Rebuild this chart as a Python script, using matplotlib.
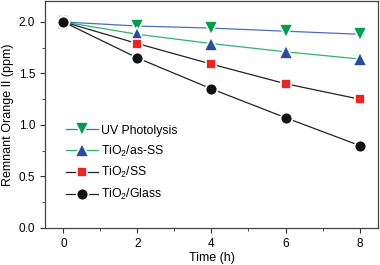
import matplotlib.pyplot as plt
from matplotlib.ticker import MultipleLocator

# czas (h) i stezenie (ppm)
time_h = [0, 2, 4, 6, 8]
uv_photolysis = [2.00, 1.96, 1.94, 1.91, 1.88]
tio2_as_ss = [2.00, 1.88, 1.79, 1.71, 1.64]
tio2_ss = [2.00, 1.79, 1.59, 1.40, 1.25]
tio2_glass = [2.00, 1.65, 1.35, 1.07, 0.80]
labels = ["UV Photolysis", "TiO$_2$/as-SS", "TiO$_2$/SS", "TiO$_2$/Glass"]

plt.rcParams['font.family'] = ['Liberation Sans', 'DejaVu Sans']
plt.rcParams['mathtext.fontset'] = 'custom'
plt.rcParams['mathtext.rm'] = 'Liberation Sans'

fig = plt.figure(figsize=(3.8, 2.65), dpi=100)
ax = fig.add_axes([0.118, 0.14, 0.877, 0.855])

series = [
    (uv_photolysis, '#4a6cc8', 'v', '#00a04a', 9.5),
    (tio2_as_ss, '#2fb36a', '^', '#2a4ca8', 9.5),
    (tio2_ss, '#222222', 's', '#ee2424', 7.5),
    (tio2_glass, '#222222', 'o', '#111111', 8.5),
]
for (vals, lc, m, mc, ms), lab in zip(series, labels):
    ax.plot(time_h, vals, color=lc, lw=0.9, marker=m, markersize=ms,
            markerfacecolor=mc, markeredgecolor='white', markeredgewidth=1.2,
            label=lab)

ax.set_xlim(-0.5, 8.5)
ax.set_ylim(0, 2.2)
ax.xaxis.set_major_locator(MultipleLocator(2))
ax.xaxis.set_minor_locator(MultipleLocator(1))
ax.yaxis.set_major_locator(MultipleLocator(0.5))
ax.yaxis.set_minor_locator(MultipleLocator(0.25))
ax.tick_params(which='both', direction='out', labelsize=8.5, color='#333333')
ax.tick_params(which='major', length=3.5)
ax.tick_params(which='minor', length=2)
for s in ax.spines.values():
    s.set_color('#444444')
    s.set_linewidth(0.9)

ax.set_xlabel("Time (h)", fontsize=9, labelpad=2)
ax.set_ylabel("Remnant Orange II (ppm)", fontsize=9, labelpad=3)

ax.legend(loc='lower left', bbox_to_anchor=(0.03, 0.065), frameon=False,
          fontsize=8.8, handlelength=2.6, handletextpad=0.3, labelspacing=0.55)

fig.savefig("out.png", dpi=100)
